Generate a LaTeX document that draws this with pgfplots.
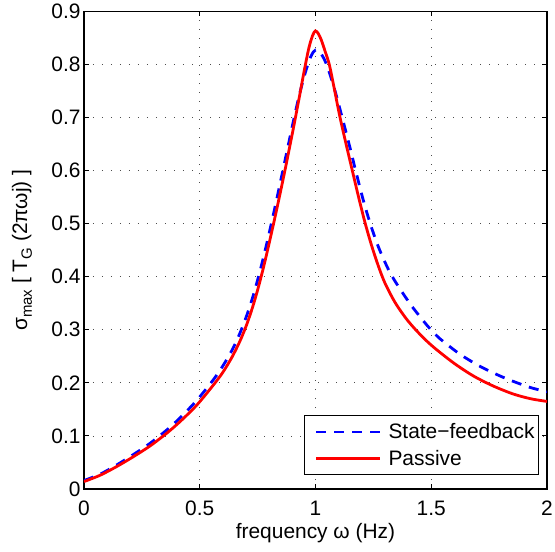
\documentclass[border=0pt]{standalone}
\usepackage{fontspec}
\setmainfont{Liberation Sans}
\usepackage{pgfplots}
\pgfplotsset{compat=1.18}

% values
\pgfplotstableread{
x y
0 0.016
0.07 0.028
0.14 0.045
0.21 0.064
0.285 0.086
0.357 0.111
0.415 0.134
0.487 0.167
0.559 0.206
0.6 0.232
0.64 0.262
0.674 0.294
0.703 0.327
0.73 0.363
0.755 0.402
0.78 0.445
0.805 0.492
0.83 0.541
0.855 0.592
0.88 0.643
0.905 0.694
0.93 0.742
0.955 0.783
0.975 0.810
0.99 0.823
1.0 0.827
1.012 0.826
1.03 0.816
1.052 0.795
1.085 0.749
1.117 0.697
1.149 0.643
1.171 0.604
1.204 0.548
1.235 0.502
1.27 0.458
1.31 0.418
1.336 0.397
1.365 0.377
1.415 0.345
1.473 0.313
1.497 0.301
1.538 0.283
1.624 0.254
1.711 0.231
1.797 0.213
1.865 0.201
1.93 0.191
2.0 0.183
}\statefb

\pgfplotstableread{
x y
0 0.014
0.07 0.026
0.14 0.042
0.21 0.060
0.285 0.081
0.357 0.105
0.415 0.127
0.487 0.158
0.559 0.196
0.6 0.220
0.64 0.249
0.674 0.279
0.703 0.310
0.73 0.345
0.755 0.383
0.78 0.426
0.805 0.473
0.83 0.522
0.855 0.573
0.88 0.626
0.905 0.681
0.93 0.738
0.953 0.792
0.972 0.832
0.988 0.855
1.0 0.863
1.012 0.858
1.025 0.846
1.042 0.824
1.06 0.799
1.083 0.750
1.106 0.700
1.132 0.650
1.159 0.600
1.185 0.552
1.212 0.505
1.24 0.462
1.27 0.422
1.30 0.388
1.343 0.352
1.39 0.322
1.437 0.298
1.5 0.271
1.595 0.238
1.682 0.213
1.768 0.194
1.854 0.179
1.93 0.170
2.0 0.165
}\passive

\newcommand{\sub}[1]{\raisebox{-0.45ex}{\fontsize{15}{15}\selectfont #1}}

\begin{document}
\begin{tikzpicture}
\path[use as bounding box] (-84bp,-63bp) rectangle (471bp,489bp);
\begin{axis}[
  scale only axis,
  width=463bp, height=477.7bp,
  xmin=0, xmax=2, ymin=0, ymax=0.9,
  xtick={0,0.5,1,1.5,2},
  xticklabels={0,0.5,1,1.5,2},
  ytick={0,0.1,0.2,0.3,0.4,0.5,0.6,0.7,0.8,0.9},
  yticklabels={0,0.1,0.2,0.3,0.4,0.5,0.6,0.7,0.8,0.9},
  /pgf/number format/assume math mode=true,
  font=\fontsize{21}{24}\selectfont,
  tick align=inside,
  major tick length=5bp,
  every tick/.style={black, line width=0.9bp},
  axis line style={black, line width=1.1bp},
  grid=major,
  major grid style={black!70, line width=0.8bp, dash pattern=on 1bp off 8bp},
  xticklabel style={anchor=base, yshift=-26bp},
  xlabel={frequency ω (Hz)},
  xlabel style={at={(axis description cs:0.5,0)}, anchor=base, yshift=-49.5bp},
  ylabel={σ\sub{max} [ T\sub{G} (2πωj) ]},
  ylabel style={at={(axis description cs:-0.1231,0.5)}, rotate=0, anchor=base},
  legend cell align=left,
  legend style={at={(axis description cs:1,0)}, anchor=south east,
    xshift=-8bp, yshift=14bp, draw=black, line width=1bp, fill=white,
    inner xsep=2bp, inner ysep=6bp, row sep=5.5bp, column sep=5bp,
    font=\fontsize{21}{24}\selectfont},
  legend image code/.code={\path (0bp,0bp); \draw[#1] (8bp,0bp) -- (72bp,0bp);},
]
\addplot[blue, line width=2.8bp, dash pattern=on 10bp off 8bp, smooth, tension=0.5] table {\statefb};
\addplot[red, line width=2.8bp, smooth, tension=0.5] table {\passive};
\legend{State−feedback, Passive}
\end{axis}
\end{tikzpicture}
\end{document}
